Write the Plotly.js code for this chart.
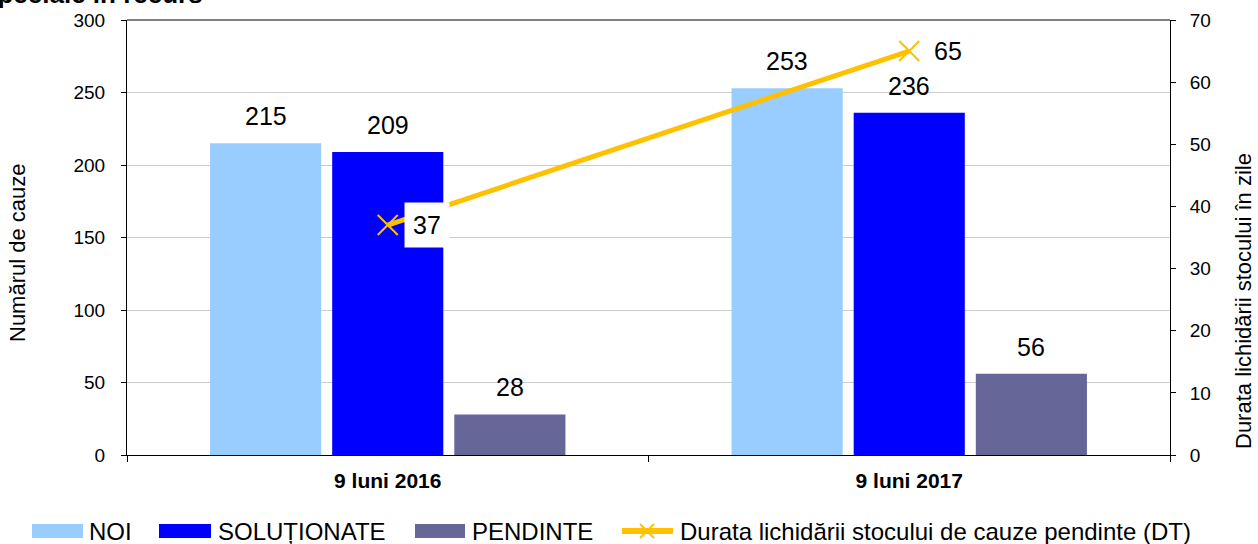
<!DOCTYPE html>
<html><head><meta charset="utf-8">
<script src="https://cdn.plot.ly/plotly-3.0.1.min.js"></script>
<style>html,body{margin:0;padding:0;background:#fff;overflow:hidden}</style>
</head><body><div id="chart" style="width:1258px;height:544px"></div>
<script>
// ---- data ----
const categories = ["9 luni 2016", "9 luni 2017"];
const noi = [215, 253];
const solutionate = [209, 236];
const pendinte = [28, 56];
const durata = [37, 65];
const seriesNames = ["NOI", "SOLUȚIONATE", "PENDINTE", "Durata lichidării stocului de cauze pendinte (DT)"];
const leftTitle = "Numărul de cauze";
const rightTitle = "Durata lichidării stocului în zile";
const topTitle = "speciale în recurs";

// ---- style ----
const FONT = "Liberation Sans, Arial, sans-serif";
const cNoi = "#99CCFF", cSol = "#0000FF", cPen = "#666699", cLine = "#FFC000";
const W = 1258, H = 544, mL = 127, mR = 88, mT = 20, mB = 89;
const plotW = W - mL - mR, plotH = H - mT - mB;
const bargap = 0.2975, bargroupgap = 0.09;
const slotPx = (plotW / categories.length) * (1 - bargap) / 3;
const px2x = px => (px - mL) / plotW;
const py2y = py => (H - mB - py) / plotH;

const traces = [
  {type: "bar", name: seriesNames[0], x: categories, y: noi, marker: {color: cNoi}, hoverinfo: "y"},
  {type: "bar", name: seriesNames[1], x: categories, y: solutionate, marker: {color: cSol}, hoverinfo: "y"},
  {type: "bar", name: seriesNames[2], x: categories, y: pendinte, marker: {color: cPen}, hoverinfo: "y"},
  {type: "scatter", mode: "lines+markers", name: seriesNames[3], x: categories, y: durata, yaxis: "y2",
   line: {color: cLine, width: 5}, marker: {symbol: "x-thin", size: 20, line: {color: cLine, width: 2}, color: cLine}}
];

const annotations = [];
[noi, solutionate, pendinte].forEach((vals, k) => {
  vals.forEach((v, i) => {
    annotations.push({x: categories[i], y: v, xref: "x", yref: "y", xshift: (k - 1) * slotPx, yshift: 27,
      yanchor: "middle", showarrow: false, text: String(v), font: {family: FONT, size: 25, color: "#000"}});
  });
});
durata.forEach((v, i) => {
  annotations.push({x: categories[i], y: v, xref: "x", yref: "y2", xanchor: "left", xshift: 16, yanchor: "middle",
    showarrow: false, text: String(v), bgcolor: "#fff", borderpad: 8, font: {family: FONT, size: 25, color: "#000"}});
});
// axis titles
annotations.push({xref: "paper", yref: "paper", x: px2x(17), y: py2y(253), text: leftTitle, textangle: -90,
  showarrow: false, xanchor: "center", yanchor: "middle", font: {family: FONT, size: 22, color: "#000"}});
annotations.push({xref: "paper", yref: "paper", x: px2x(1243), y: py2y(301), text: rightTitle, textangle: -90,
  showarrow: false, xanchor: "center", yanchor: "middle", borderpad: 0, font: {family: FONT, size: 22, color: "#000"}});
// title, cut off at the top edge as in the reference
annotations.push({xref: "paper", yref: "paper", x: px2x(205), y: 1, yshift: 9, xanchor: "right", yanchor: "bottom",
  text: topTitle, showarrow: false, font: {family: FONT, size: 26, color: "#000", weight: "bold"}});

// manual legend
const shapes = [
  {type: "line", xref: "paper", yref: "paper", x0: 0, x1: 1, y0: 1, y1: 1, line: {color: "#808080", width: 2}}
];
const legendItems = [
  {sx0: 32, sx1: 83, tx: 87, color: cNoi, name: seriesNames[0]},
  {sx0: 159, sx1: 211, tx: 216, color: cSol, name: seriesNames[1]},
  {sx0: 415, sx1: 465, tx: 470, color: cPen, name: seriesNames[2]}
];
const legY = 531;
const LEGFONT = 24;
legendItems.forEach(it => {
  shapes.push({type: "rect", xref: "paper", yref: "paper", x0: px2x(it.sx0), x1: px2x(it.sx1),
    y0: py2y(legY + 7), y1: py2y(legY - 7), fillcolor: it.color, line: {width: 0}});
  annotations.push({xref: "paper", yref: "paper", x: px2x(it.tx), y: py2y(legY), xanchor: "left", yanchor: "middle",
    showarrow: false, text: it.name, font: {family: FONT, size: LEGFONT, color: "#000"}});
});
shapes.push({type: "line", xref: "paper", yref: "paper", x0: px2x(622), x1: px2x(673), y0: py2y(legY), y1: py2y(legY),
  line: {color: cLine, width: 6}});
shapes.push({type: "line", xref: "paper", yref: "paper", x0: px2x(640), x1: px2x(654), y0: py2y(legY - 7), y1: py2y(legY + 7),
  line: {color: cLine, width: 2}});
shapes.push({type: "line", xref: "paper", yref: "paper", x0: px2x(640), x1: px2x(654), y0: py2y(legY + 7), y1: py2y(legY - 7),
  line: {color: cLine, width: 2}});
annotations.push({xref: "paper", yref: "paper", x: px2x(678), y: py2y(legY), xanchor: "left", yanchor: "middle",
  showarrow: false, text: seriesNames[3], font: {family: FONT, size: LEGFONT, color: "#000"}});

const layout = {
  width: W, height: H,
  margin: {l: mL, r: mR, t: mT, b: mB, pad: 0},
  paper_bgcolor: "#fff", plot_bgcolor: "#fff",
  font: {family: FONT, color: "#000", size: 19},
  showlegend: false,
  barmode: "group", bargap: bargap, bargroupgap: bargroupgap,
  xaxis: {type: "category", range: [-0.5, 1.5], tickson: "boundaries", ticks: "outside", ticklen: 6,
    tickcolor: "#000", showline: true, linecolor: "#000", linewidth: 1, showgrid: false, zeroline: false,
    tickfont: {family: FONT, size: 21, weight: "bold"}, ticklabelstandoff: 7, fixedrange: true},
  yaxis: {range: [0, 300], dtick: 50, ticks: "outside", ticklen: 5, tickcolor: "#000", showline: true,
    linecolor: "#000", linewidth: 1, gridcolor: "#cccccc", gridwidth: 1, zeroline: false,
    tickfont: {family: FONT, size: 19}, ticklabelstandoff: 12, fixedrange: true},
  yaxis2: {range: [0, 70], dtick: 10, overlaying: "y", side: "right", ticks: "outside", ticklen: 5, tickcolor: "#000",
    showline: true, linecolor: "#000", linewidth: 1, showgrid: false, zeroline: false,
    tickfont: {family: FONT, size: 19}, ticklabelstandoff: 10, fixedrange: true},
  annotations: annotations,
  shapes: shapes
};

Plotly.newPlot("chart", traces, layout, {displayModeBar: false, staticPlot: true});
</script>
</body></html>
